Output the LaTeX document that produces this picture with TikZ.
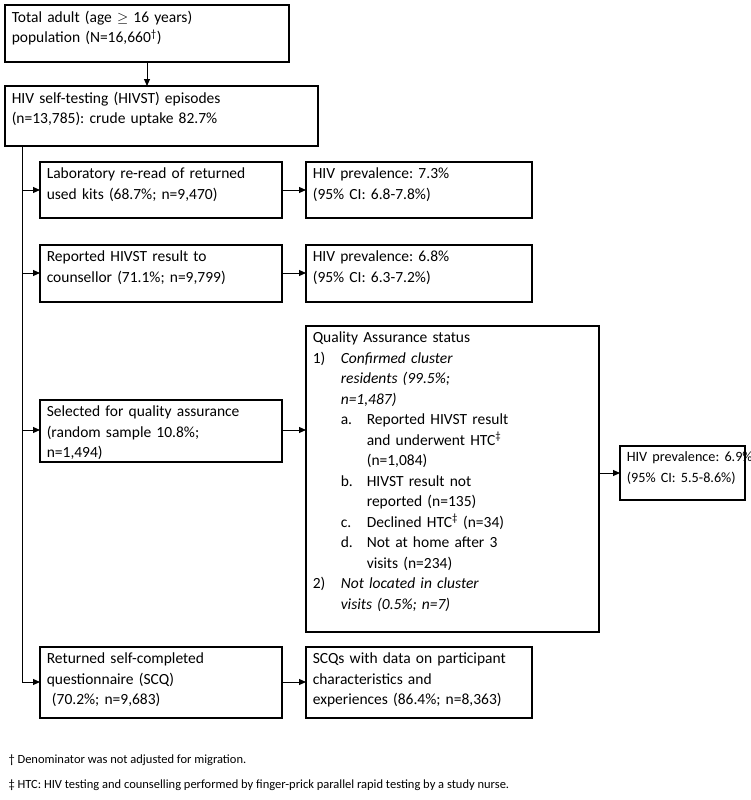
\documentclass[tikz,border=0pt]{standalone}
\usepackage{fontspec}
\setmainfont{Carlito}
\usetikzlibrary{arrows.meta}
\begin{document}
\frenchspacing
\begin{tikzpicture}[x=1pt,y=-1pt,
  box/.style={draw,line width=1.6pt,anchor=north west,align=left,inner sep=0pt,
    font=\fontsize{15.5}{20.5}\selectfont},
  arr/.style={-{Triangle[length=7pt,width=6pt]},line width=1pt}]
\useasboundingbox (0,0) rectangle (750,800);
\newcommand{\bx}[6]{%
  \draw[line width=1.6pt] (#2,#3) rectangle (#4,#5);
  \node[box,draw=none,text width=#4-#2-8pt] (#1) at (#2+6,#3+5) {#6};
  \path (#2,#3) coordinate (#1nw) (#4,#5) coordinate (#1se);}
\bx{a}{5}{5}{289}{62}{Total adult (age \ensuremath{\geq} 16 years)\\population (N=16,660\textsuperscript{\textdagger})}
\bx{b}{5}{86}{318}{146}{HIV self-testing (HIVST) episodes\\(n=13,785): crude uptake 82.7\%}
\bx{c}{40}{162}{282}{218}{Laboratory re-read of returned\\used kits (68.7\%; n=9,470)}
\bx{c2}{306}{162}{532}{218}{HIV prevalence: 7.3\%\\(95\% CI: 6.8-7.8\%)}
\bx{d}{40}{245}{282}{302}{Reported HIVST result to\\counsellor (71.1\%; n=9,799)}
\bx{d2}{306}{245}{532}{302}{HIV prevalence: 6.8\%\\(95\% CI: 6.3-7.2\%)}
\bx{e}{40}{400}{282}{462}{Selected for quality assurance\\(random sample 10.8\%;\\n=1,494)}
\bx{e2}{306}{326}{599}{632}{Quality Assurance status\\
\makebox[28pt][l]{1)}\textit{Confirmed cluster}\\
\hspace*{28pt}\textit{residents (99.5\%;}\\
\hspace*{28pt}\textit{n=1,487)}\\
\hspace*{28pt}\makebox[26pt][l]{a.}Reported HIVST result\\
\hspace*{54pt}and underwent HTC\textsuperscript{\ddag}\\
\hspace*{54pt}(n=1,084)\\
\hspace*{28pt}\makebox[26pt][l]{b.}HIVST result not\\
\hspace*{54pt}reported (n=135)\\
\hspace*{28pt}\makebox[26pt][l]{c.}Declined HTC\textsuperscript{\ddag} (n=34)\\
\hspace*{28pt}\makebox[26pt][l]{d.}Not at home after 3\\
\hspace*{54pt}visits (n=234)\\
\makebox[28pt][l]{2)}\textit{Not located in cluster}\\
\hspace*{28pt}\textit{visits (0.5\%; n=7)}}
\bx{e3}{620}{446}{745}{500}{\fontsize{14.2}{20.5}\selectfont\mbox{HIV prevalence: 6.9\%}\\\mbox{(95\% CI: 5.5-8.6\%)}}
\bx{f}{40}{647}{282}{718}{Returned self-completed\\questionnaire (SCQ)\\\ (70.2\%; n=9,683)}
\bx{f2}{306}{647}{532}{718}{SCQs with data on participant\\characteristics and\\experiences (86.4\%; n=8,363)}
\draw[arr] (147,62) -- (147,86);
\draw[line width=1pt] (22,146) -- (22,682);
\foreach \yy in {190,273,430,682} \draw[arr] (22,\yy) -- (40,\yy);
\draw[arr] (282,190) -- (306,190);
\draw[arr] (282,273) -- (306,273);
\draw[arr] (282,430) -- (306,430);
\draw[arr] (599,473) -- (620,473);
\draw[arr] (282,682) -- (306,682);
\node[anchor=west,font=\fontsize{12.5}{14}\selectfont] (n1) at (5,760) {\textdagger\ Denominator was not adjusted for migration.};
\node[anchor=west,font=\fontsize{12.5}{14}\selectfont] (n2) at (5,785) {\ddag\ HTC: HIV testing and counselling performed by finger-prick parallel rapid testing by a study nurse.};
\end{tikzpicture}
\end{document}
